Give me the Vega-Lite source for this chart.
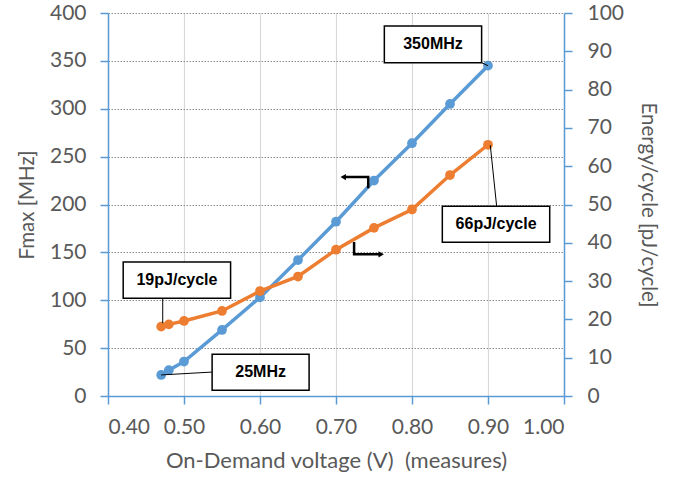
{
  "$schema": "https://vega.github.io/schema/vega-lite/v6.json",
  "width": 456,
  "height": 383,
  "autosize": {"type": "none"},
  "padding": {"left": 108, "top": 13, "right": 114, "bottom": 82},
  "background": "white",
  "config": {
    "view": {"stroke": null},
    "font": "Lato",
    "axis": {
      "labelFont": "Lato", "titleFont": "Lato",
      "labelColor": "#595959", "titleColor": "#595959",
      "labelFontSize": 21, "titleFontSize": 20.5, "titleFontWeight": "normal",
      "domainColor": "#5B9BD5", "tickColor": "#5B9BD5", "tickSize": 8,
      "domainWidth": 1.5, "tickWidth": 1.5
    }
  },
  "datasets": {
    "freq": [
      {"V": 0.47, "F": 22}, {"V": 0.48, "F": 27}, {"V": 0.50, "F": 36},
      {"V": 0.55, "F": 69}, {"V": 0.60, "F": 103}, {"V": 0.65, "F": 142},
      {"V": 0.70, "F": 182}, {"V": 0.75, "F": 225}, {"V": 0.80, "F": 264},
      {"V": 0.85, "F": 305}, {"V": 0.90, "F": 345}
    ],
    "energy": [
      {"V": 0.47, "E": 18.1}, {"V": 0.48, "E": 18.7}, {"V": 0.50, "E": 19.6},
      {"V": 0.55, "E": 22.2}, {"V": 0.60, "E": 27.4}, {"V": 0.65, "E": 31.2},
      {"V": 0.70, "E": 38.2}, {"V": 0.75, "E": 43.9}, {"V": 0.80, "E": 48.7},
      {"V": 0.85, "E": 57.7}, {"V": 0.90, "E": 65.6}
    ],
    "boxes": [
      {"label": "350MHz", "V1": 0.7636, "V2": 0.8916, "F1": 386.3, "F2": 348.1, "Vc": 0.8276, "Fc": 367.2},
      {"label": "66pJ/cycle", "V1": 0.8399, "V2": 0.9812, "F1": 198.1, "F2": 160.5, "Vc": 0.9106, "Fc": 179.3},
      {"label": "19pJ/cycle", "V1": 0.420, "V2": 0.5613, "F1": 139.9, "F2": 102.0, "Vc": 0.4907, "Fc": 121.0},
      {"label": "25MHz", "V1": 0.537, "V2": 0.6646, "F1": 43.6, "F2": 6.0, "Vc": 0.6008, "Fc": 24.8}
    ],
    "leaders": [
      {"id": "a", "o": 1, "V": 0.8916, "F": 348.1}, {"id": "a", "o": 2, "V": 0.900, "F": 345},
      {"id": "b", "o": 1, "V": 0.9114, "F": 198.1}, {"id": "b", "o": 2, "V": 0.9030, "F": 262},
      {"id": "c", "o": 1, "V": 0.4720, "F": 102.0}, {"id": "c", "o": 2, "V": 0.4720, "F": 76},
      {"id": "d", "o": 1, "V": 0.537, "F": 25.0}, {"id": "d", "o": 2, "V": 0.470, "F": 22}
    ],
    "arrows": [
      {"id": "L", "o": 1, "V": 0.7424, "F": 216.9}, {"id": "L", "o": 2, "V": 0.7424, "F": 228.6}, {"id": "L", "o": 3, "V": 0.712, "F": 228.6},
      {"id": "R", "o": 1, "V": 0.7238, "F": 160.9}, {"id": "R", "o": 2, "V": 0.7238, "F": 148.0}, {"id": "R", "o": 3, "V": 0.757, "F": 148.0}
    ],
    "heads": [
      {"dir": "left", "V": 0.7095, "F": 228.6},
      {"dir": "right", "V": 0.7595, "F": 148.0}
    ]
  },
  "encoding": {
    "x": {
      "field": "V", "type": "quantitative",
      "scale": {"domain": [0.4, 1.0], "nice": false, "zero": false},
      "axis": {
        "values": [0.4, 0.5, 0.6, 0.7, 0.8, 0.9, 1.0], "format": ".2f",
        "grid": true, "gridColor": "#d9d9d9", "gridWidth": 1.2,
        "labelPadding": 12, "titlePadding": 13, "titleFontSize": 22,
        "title": "On-Demand voltage (V)\u00a0 (measures)"
      }
    }
  },
  "layer": [
    {
      "data": {"name": "freq"},
      "mark": {"type": "line", "color": "#5B9BD5", "strokeWidth": 3.5,
               "point": {"filled": true, "size": 95, "color": "#5B9BD5"}},
      "encoding": {
        "y": {
          "field": "F", "type": "quantitative",
          "scale": {"domain": [0, 400], "nice": false},
          "axis": {
            "orient": "left", "values": [0, 50, 100, 150, 200, 250, 300, 350, 400],
            "grid": true, "gridColor": "#8c8c8c", "gridDash": [1.5, 1.5], "gridWidth": 1,
            "labelPadding": 14, "titlePadding": 12, "title": "Fmax [MHz]"
          }
        }
      }
    },
    {
      "data": {"name": "energy"},
      "mark": {"type": "line", "color": "#ED7D31", "strokeWidth": 3.5,
               "point": {"filled": true, "size": 95, "color": "#ED7D31"}},
      "encoding": {
        "y": {
          "field": "E", "type": "quantitative",
          "scale": {"domain": [0, 100], "nice": false},
          "axis": {
            "orient": "right", "values": [0, 10, 20, 30, 40, 50, 60, 70, 80, 90, 100],
            "grid": false, "labelPadding": 15, "titlePadding": 14,
            "title": "Energy/cycle [pJ/cycle]"
          }
        }
      }
    },
    {
      "data": {"name": "leaders"},
      "mark": {"type": "line", "color": "black", "strokeWidth": 1},
      "encoding": {
        "detail": {"field": "id"},
        "order": {"field": "o", "type": "quantitative"},
        "y": {"field": "F", "type": "quantitative", "scale": {"domain": [0, 400], "nice": false}, "axis": null}
      }
    },
    {
      "data": {"name": "boxes"},
      "mark": {"type": "rect", "fill": "white", "stroke": "black", "strokeWidth": 1.5},
      "encoding": {
        "x": {"field": "V1", "type": "quantitative"},
        "x2": {"field": "V2"},
        "y": {"field": "F1", "type": "quantitative", "scale": {"domain": [0, 400], "nice": false}, "axis": null},
        "y2": {"field": "F2"}
      }
    },
    {
      "data": {"name": "boxes"},
      "mark": {"type": "text", "font": "Liberation Sans", "fontWeight": "bold", "fontSize": 16, "color": "black", "align": "center", "baseline": "middle"},
      "encoding": {
        "x": {"field": "Vc", "type": "quantitative"},
        "y": {"field": "Fc", "type": "quantitative", "scale": {"domain": [0, 400], "nice": false}, "axis": null},
        "text": {"field": "label"}
      }
    },
    {
      "data": {"name": "arrows"},
      "mark": {"type": "line", "color": "black", "strokeWidth": 2.5, "strokeCap": "butt", "strokeJoin": "miter"},
      "encoding": {
        "detail": {"field": "id"},
        "order": {"field": "o", "type": "quantitative"},
        "y": {"field": "F", "type": "quantitative", "scale": {"domain": [0, 400], "nice": false}, "axis": null}
      }
    },
    {
      "data": {"name": "heads"},
      "mark": {"type": "point", "filled": true, "color": "black", "size": 40, "opacity": 1},
      "encoding": {
        "y": {"field": "F", "type": "quantitative", "scale": {"domain": [0, 400], "nice": false}, "axis": null},
        "shape": {"field": "dir", "type": "nominal", "scale": {"domain": ["left", "right"], "range": ["triangle-left", "triangle-right"]}, "legend": null}
      }
    }
  ],
  "resolve": {"scale": {"y": "independent"}}
}
